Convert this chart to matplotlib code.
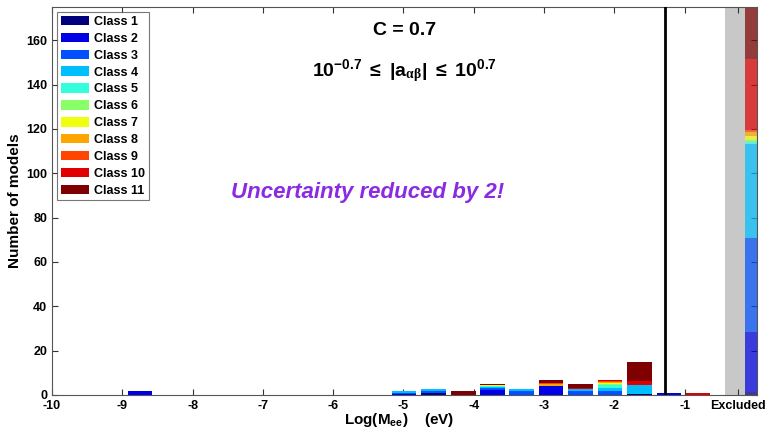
import matplotlib
matplotlib.use("Agg")
import matplotlib.pyplot as plt
import numpy as np

plt.rcParams['font.family'] = ['Liberation Sans', 'DejaVu Sans']
plt.rcParams['font.weight'] = 'bold'
plt.rcParams['mathtext.fontset'] = 'custom'
plt.rcParams['mathtext.rm'] = 'Liberation Sans:bold'
plt.rcParams['mathtext.bf'] = 'Liberation Sans:bold'
plt.rcParams['mathtext.it'] = 'Liberation Serif'

# ---- data ----
class_names = [f"Class {i}" for i in range(1, 12)]
class_colors = ['#00007F', '#0000E6', '#0050FF', '#00BFFF', '#33FFDD', '#88FF66',
                '#F0FF10', '#FFA500', '#FF4500', '#E00000', '#7F0000']
bin_centers = [-8.75, -4.99, -4.57, -4.15, -3.73, -3.32, -2.90, -2.48, -2.06, -1.64, -1.22, -0.81]
c1  = [0, 0, 1.0, 0, 0, 0, 0, 0, 0, 0.6, 0, 0]
c2  = [1.8, 0.3, 0, 0, 2.3, 0.2, 4.2, 0, 0, 0, 0.7, 0]
c3  = [0, 0.5, 1.0, 0, 0.7, 1.5, 0, 1.65, 1.65, 0, 0, 0]
c4  = [0, 1.0, 0.8, 0, 0.6, 1.1, 0, 1.05, 1.5, 3.75, 0, 0]
c5  = [0, 0, 0, 0, 0.3, 0, 0, 0, 1.2, 0, 0, 0]
c6  = [0, 0, 0, 0, 0, 0, 0, 0, 0.6, 0, 0, 0]
c7  = [0, 0, 0, 0, 0.5, 0, 0, 0, 0.45, 0, 0, 0]
c8  = [0, 0, 0, 0, 0.3, 0, 0.6, 0, 0.45, 0, 0, 0]
c9  = [0, 0, 0, 0, 0, 0, 0.6, 0, 0.45, 0, 0, 0]
c10 = [0, 0, 0, 0, 0, 0, 0, 0.45, 0.6, 2.1, 0.3, 1.0]
c11 = [0.15, 0.1, 0, 1.9, 0.3, 0, 1.5, 1.8, 0, 8.4, 0, 0]
class_counts = [c1, c2, c3, c4, c5, c6, c7, c8, c9, c10, c11]
excluded_counts = [1.5, 27.0, 42.3, 42.2, 1.1, 1.0, 1.9, 1.5, 1.2, 31.8, 23.0]
excluded_pos = -0.055
xticks = [-10, -9, -8, -7, -6, -5, -4, -3, -2, -1]
cut_line = -1.28

fig = plt.figure(figsize=(7.68, 4.33), dpi=100)
ax = fig.add_axes([0.0677, 0.0878, 0.918, 0.896])

ax.axvspan(-0.43, 0.03, color='#C8C8C8', zorder=0, lw=0)

bottom = np.zeros(len(bin_centers))
for name, col, vals in zip(class_names, class_colors, class_counts):
    v = np.array(vals)
    ax.bar(bin_centers, v, width=0.35, bottom=bottom, color=col, label=name, lw=0, zorder=2)
    bottom += v

eb = 0.0
for col, v in zip(class_colors, excluded_counts):
    ax.bar(excluded_pos, v, width=0.17, bottom=eb, color=col, alpha=0.7, lw=0, zorder=2)
    eb += v

ax.axvline(cut_line, color='black', lw=2, zorder=3)

ax.set_xlim(-10, 0.03)
ax.set_ylim(0, 175)
ax.set_xticks(xticks + [-0.24])
ax.set_xticklabels([str(t) for t in xticks] + ['Excluded'])
ax.set_yticks(np.arange(0, 161, 20))
ax.tick_params(direction='in', top=True, right=True, labelsize=9, length=4, width=0.8, color='#333333')
for lab in ax.get_xticklabels() + ax.get_yticklabels():
    lab.set_fontweight('bold')
for s in ax.spines.values():
    s.set_color('#555555')
    s.set_linewidth(0.8)

ax.set_ylabel('Number of models', fontsize=11, fontweight='bold', labelpad=3)
ax.set_xlabel(r'Log(M$_{\mathrm{ee}}$)    (eV)', fontsize=11, fontweight='bold', labelpad=-2)
ax.xaxis.set_label_coords(0.492, -0.042)
ax.xaxis.label.set_va('top')

ax.text(0.5, 0.94, 'C = 0.7', transform=ax.transAxes, ha='center', va='center',
        fontsize=14, fontweight='bold')
ax.text(0.5, 0.82, r'$\mathrm{10^{-0.7}}$ $\leq$ $\mathrm{|a}_{\alpha\beta}\mathrm{|}$ $\leq$ $\mathrm{10^{0.7}}$',
        transform=ax.transAxes, ha='center', va='baseline', fontsize=14)
ax.text(0.448, 0.523, 'Uncertainty reduced by 2!', transform=ax.transAxes, ha='center', va='center',
        fontsize=16, fontweight='bold', style='italic', color='#8A2BE2')

leg = ax.legend(loc='upper left', fontsize=9, frameon=True, fancybox=False, edgecolor='#555555',
                handlelength=2.3, handleheight=0.8, labelspacing=0.38, borderaxespad=0.4,
                handletextpad=0.4, borderpad=0.3)
leg.get_frame().set_linewidth(0.8)
for t in leg.get_texts():
    t.set_fontweight('bold')

fig.savefig('out.png', dpi=100)
